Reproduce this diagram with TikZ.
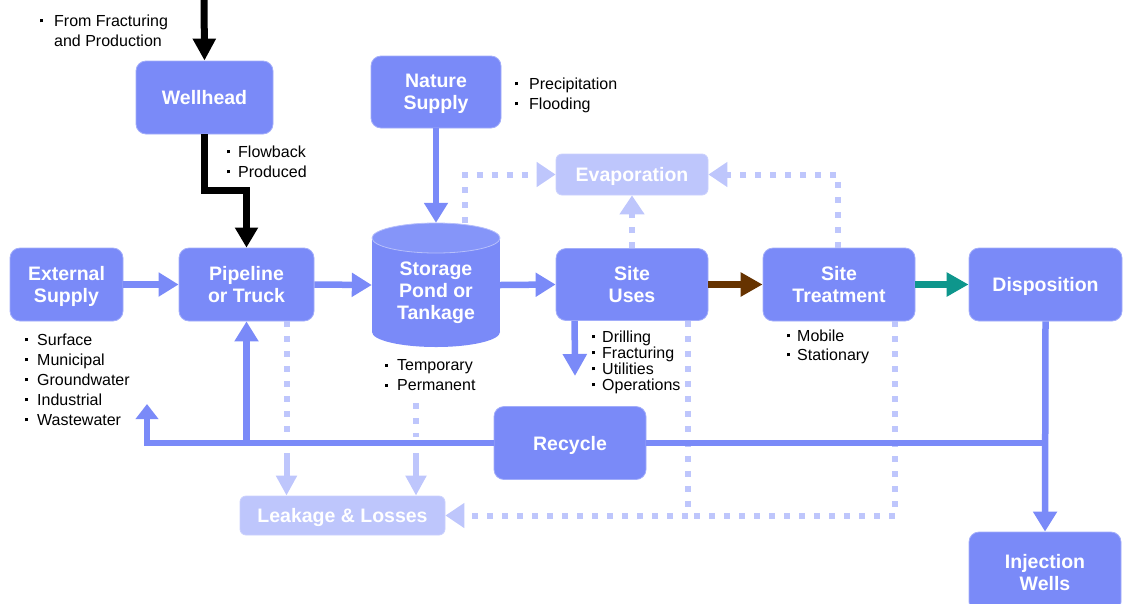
\documentclass[tikz,border=0pt]{standalone}
\usepackage{fontspec}
\setmainfont{Liberation Sans}
\usetikzlibrary{arrows.meta,shapes.geometric}
\definecolor{flowblue}{HTML}{7A8AF8}
\definecolor{paleblue}{HTML}{BEC6FC}
\definecolor{rimblue}{HTML}{8595F9}
\definecolor{brownflow}{HTML}{663300}
\definecolor{tealflow}{HTML}{0E968C}
% small square bullet followed by a gap of the given width
\newcommand\blt[1][12pt]{\makebox[#1][l]{\rule[4pt]{3pt}{3pt}}}
\begin{document}
\begin{tikzpicture}[x=1pt,y=-1pt,
  box/.style={rectangle, rounded corners=10pt, fill=flowblue, draw=flowblue!70!white,
    line width=0.8pt, text=white, font=\bfseries\fontsize{19.5}{22}\selectfont,
    align=center, inner sep=0pt, text depth=0pt},
  palebox/.style={box, rounded corners=6pt, fill=paleblue, draw=paleblue!80!white},
  note/.style={font=\fontsize{16}{20}\selectfont, align=left, inner sep=0pt, anchor=north west},
  flow/.style={draw=flowblue, line width=6.5pt, -{Triangle[length=20pt,width=23pt]}},
  trunk/.style={draw=flowblue, line width=6.5pt},
  blackflow/.style={draw=black, line width=7pt, -{Triangle[length=22pt,width=22pt]}},
  dots/.style={draw=paleblue, line width=6pt, dash pattern=on 6pt off 9pt},
  dotflow/.style={dots, -{Triangle[length=19pt,width=24pt]}},
  paleflow/.style={draw=paleblue, line width=6pt, -{Triangle[length=20pt,width=20pt]}}]
\useasboundingbox (0,0) rectangle (1123,603);
\clip (0,0) rectangle (1123,603);

% process boxes
\node[box, minimum width=137, minimum height=73] (wellhead) at (204.5,97.5) {Wellhead};
\node[box, minimum width=130, minimum height=72] (nature) at (436,92) {Nature\\Supply};
\node[palebox, minimum width=152, minimum height=41] (evap) at (632,174.5) {Evaporation};
\node[box, minimum width=113, minimum height=73] (ext) at (66.5,284.5) {External\\Supply};
\node[box, minimum width=135, minimum height=73] (pipe) at (246.5,284.5) {Pipeline\\or Truck};
\node[box, minimum width=152, minimum height=72] (uses) at (632,284.5) {Site\\Uses};
\node[box, minimum width=152, minimum height=73] (treat) at (839,284.5) {Site\\Treatment};
\node[box, minimum width=153, minimum height=73] (disp) at (1045.5,284.5) {Disposition};
\node[box, minimum width=152, minimum height=73] (recycle) at (570,443) {Recycle};
\node[palebox, minimum width=205, minimum height=39] (leak) at (342.5,515.5) {Leakage \& Losses};
\node[box, minimum width=152, minimum height=80] (inject) at (1045,572) {Injection\\Wells};

% storage cylinder
\fill[flowblue] (372,238) rectangle (500,332);
\fill[flowblue] (436,332) ellipse [x radius=64, y radius=15];
\filldraw[fill=rimblue, draw=flowblue!55!white, line width=0.8pt] (436,238) ellipse [x radius=64, y radius=15];
\node[inner sep=0pt, minimum width=128, minimum height=124] (store) at (436,285) {};
\node[text=white, font=\bfseries\fontsize{19.5}{22}\selectfont, align=center, inner sep=0pt,
  text depth=0pt] (storelabel) at (436,291) {Storage\\Pond or\\Tankage};

% bullet notes
\node[note] (fromnote) at (40,14.5) {\blt[14pt]From Fracturing\\\hspace*{14pt}and Production};
\node[note] (flownote) at (227,145.5) {\blt[11pt]Flowback\\\blt[11pt]Produced};
\node[note] (naturenote) at (515,77.5) {\blt[14pt]Precipitation\\\blt[14pt]Flooding};
\node[note] (extnote) at (25,333.5) {\blt Surface\\\blt Municipal\\\blt Groundwater\\\blt Industrial\\\blt Wastewater};
\node[note] (storenote) at (385,359.5) {\blt Temporary\\\blt Permanent};
\node[note, font=\fontsize{16}{16}\selectfont] (usesnote) at (592,330.5)
  {\blt[10pt]Drilling\\\blt[10pt]Fracturing\\\blt[10pt]Utilities\\\blt[10pt]Operations};
\node[note, font=\fontsize{16}{19}\selectfont] (treatnote) at (787,329.5)
  {\blt[10pt]Mobile\\\blt[10pt]Stationary};

% losses to evaporation
\draw[dotflow] ([xshift=29pt]store.north) |- (evap.west);
\draw[dotflow] (uses.north) -- (evap.south);
\draw[dotflow] ([xshift=-1pt]treat.north) |- (evap.east);

% losses to leakage
\coordinate (pipeleak) at (286.5,453);
\coordinate (storeleak) at (416,453);
\draw[dots] ([xshift=40pt]pipe.south) -- (286.5,437);
\draw[paleflow] (pipeleak) -- (pipeleak |- leak.north);
\draw[dots] (416,403) -- (416,437);
\draw[paleflow] (storeleak) -- (storeleak |- leak.north);
\draw[dotflow] ([xshift=-20pt]uses.south east) |- (leak.east);
\draw[dots] ([xshift=-20pt]treat.south east) |- ([xshift=-20pt]uses.south east |- leak.east);

% main flow
\coordinate (source) at (204,-3);
\draw[blackflow] (source) -- (wellhead.north);
\draw[draw=black, line width=7pt, -{Triangle[length=20pt,width=22pt]}]
  (wellhead.south) -- ++(0,56) -| (pipe.north);
\draw[flow] (ext.east) -- (pipe.west);
\draw[flow] (pipe.east) -- (store.west);
\draw[flow] (nature.south) -- (store.north);
\draw[flow] (store.east) -- (uses.west);
\draw[flow, draw=brownflow, -{Triangle[length=22pt,width=23pt]}] (uses.east) -- (treat.west);
\draw[flow, draw=tealflow, -{Triangle[length=22pt,width=23pt]}] (treat.east) -- (disp.west);
\coordinate (usesout) at (575,376);
\draw[flow, -{Triangle[length=22pt,width=23pt]}] ([xshift=19pt]uses.south west) -- (usesout);

% disposition, injection and recycle
\draw[flow] (disp.south) -- (inject.north);
\draw[trunk] (recycle.east) -- (disp.south |- recycle.east);
\coordinate (extreturn) at (147,404);
\draw[flow, -{Triangle[length=15pt,width=22pt]}] (recycle.west) -| (extreturn);
\draw[flow] (pipe.south |- recycle.west) -- (pipe.south);
\end{tikzpicture}
\end{document}
